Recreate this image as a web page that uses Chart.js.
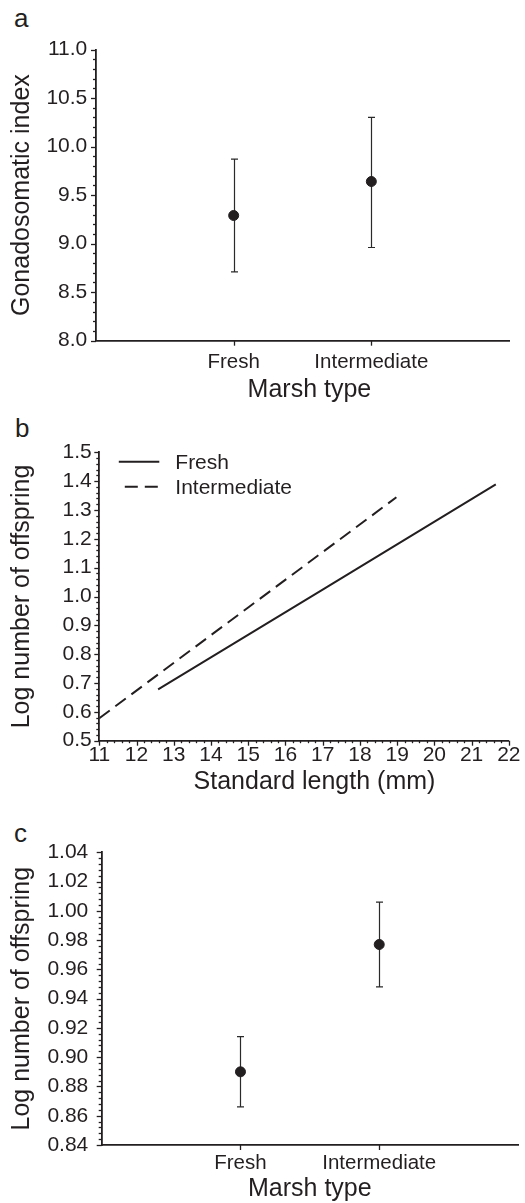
<!DOCTYPE html>
<html>
<head>
<meta charset="utf-8">
<script src="https://cdn.jsdelivr.net/npm/chart.js@4.4.1/dist/chart.umd.min.js"></script>
<style>
html, body { margin: 0; padding: 0; background: #fff; }
body { width: 525px; height: 1203px; position: relative; overflow: hidden; font-family: "Liberation Sans", Arial, sans-serif; color: #231f20; }
canvas { position: absolute; left: 0; }
.lbl { position: absolute; font-size: 26px; line-height: 1; }
</style>
</head>
<body>
<div class="lbl" style="left:14px;top:5px">a</div>
<div class="lbl" style="left:15px;top:415px">b</div>
<div class="lbl" style="left:14px;top:820px">c</div>
<canvas id="chartA" width="525" height="410" style="top:0"></canvas>
<canvas id="chartB" width="525" height="405" style="top:405px"></canvas>
<canvas id="chartC" width="525" height="393" style="top:810px"></canvas>
<script>
// panel a - gonadosomatic index
const marshTypes = ["Fresh", "Intermediate"];
const gsiMean = [9.29, 9.64];
const gsiLow = [8.71, 8.96];
const gsiHigh = [9.87, 10.30];

// panel b - regression lines
const fitLabels = ["Fresh", "Intermediate"];
const freshSL = [12.58, 17, 21.65];
const freshLogN = [0.678, 1.024, 1.389];
const interSL = [11, 15, 18.98];
const interLogN = [0.578, 0.962, 1.344];

// panel c - log number of offspring
const offMean = [0.890, 0.977];
const offLow = [0.866, 0.948];
const offHigh = [0.914, 1.006];

const INK = "#231f20";
const FONT = "'Liberation Sans', Arial, sans-serif";

Chart.defaults.font.family = FONT;
Chart.defaults.color = INK;

// tick marks (major + minor) drawn from the scales
const axisDeco = {
    id: "axisDeco",
    afterDraw(chart, args, opts) {
        const ctx = chart.ctx;
        const area = chart.chartArea;
        ctx.save();
        ctx.strokeStyle = INK;
        ctx.lineWidth = 1.3;
        Object.values(chart.scales).forEach(scale => {
            const o = opts[scale.id];
            if (!o) return;
            const marks = [];
            if (o.values) {
                o.values.forEach(v => marks.push([v, o.major]));
            } else {
                const n = Math.round((scale.max - scale.min) / o.minorStep);
                for (let i = 0; i <= n; i++) {
                    marks.push([scale.min + i * o.minorStep, i % o.every === 0 ? o.major : o.minor]);
                }
            }
            marks.forEach(([v, len]) => {
                const p = Math.round(scale.getPixelForValue(v)) + 0.5;
                ctx.beginPath();
                if (scale.isHorizontal()) {
                    ctx.moveTo(p, area.bottom);
                    ctx.lineTo(p, area.bottom + len);
                } else {
                    ctx.moveTo(area.left, p);
                    ctx.lineTo(area.left - len, p);
                }
                ctx.stroke();
            });
        });
        ctx.restore();
    }
};

const errorBars = {
    id: "errorBars",
    beforeDatasetsDraw(chart, args, opts) {
        if (!opts.lo) return;
        const ctx = chart.ctx;
        const meta = chart.getDatasetMeta(0);
        const yScale = chart.scales.y;
        ctx.save();
        ctx.strokeStyle = "#2a2a2a";
        ctx.lineWidth = 1.2;
        meta.data.forEach((pt, i) => {
            const x = Math.round(pt.x) + 0.5;
            const y1 = yScale.getPixelForValue(opts.lo[i]);
            const y2 = yScale.getPixelForValue(opts.hi[i]);
            ctx.beginPath();
            ctx.moveTo(x, y1); ctx.lineTo(x, y2);
            ctx.moveTo(x - 3.5, y1); ctx.lineTo(x + 3.5, y1);
            ctx.moveTo(x - 3.5, y2); ctx.lineTo(x + 3.5, y2);
            ctx.stroke();
        });
        ctx.restore();
    }
};

const lineLegend = {
    id: "lineLegend",
    afterDraw(chart, args, opts) {
        if (!opts.show) return;
        const ctx = chart.ctx;
        const area = chart.chartArea;
        ctx.save();
        ctx.font = "21px " + FONT;
        ctx.fillStyle = INK;
        ctx.textBaseline = "middle";
        chart.data.datasets.forEach((ds, i) => {
            const y = area.top + 9.5 + i * 25;
            ctx.strokeStyle = INK;
            ctx.lineWidth = 2;
            ctx.setLineDash(ds.borderDash || []);
            ctx.beginPath();
            ctx.moveTo(area.left + (ds.borderDash ? 25.5 : 19.5), y);
            ctx.lineTo(area.left + 60, y);
            ctx.stroke();
            ctx.setLineDash([]);
            ctx.fillText(ds.label, area.left + 76, y + 1);
        });
        ctx.restore();
    }
};

function fixSize(w, h) {
    return scale => {
        if (w !== null) scale.width = w;
        if (h !== null) scale.height = h;
    };
}

function yTitle(text) {
    return { display: true, text: text, font: { size: 25, lineHeight: 1 }, padding: { top: 9.8, bottom: 0 }, color: INK };
}

function axisBorder() {
    return { display: true, color: INK, width: 1.8 };
}

function meanChart(id, opts) {
    return new Chart(document.getElementById(id), {
        type: "scatter",
        data: {
            datasets: [{
                data: opts.mean.map((v, i) => ({ x: i + 1, y: v })),
                pointRadius: 5,
                pointBackgroundColor: INK,
                pointBorderColor: INK,
                showLine: false
            }]
        },
        options: {
            responsive: false,
            animation: false,
            layout: { autoPadding: false, padding: opts.padding },
            plugins: {
                legend: { display: false },
                tooltip: { enabled: false },
                errorBars: { lo: opts.lo, hi: opts.hi },
                axisDeco: {
                    x: { values: marshTypes.map((c, i) => i + 1), major: 5 },
                    y: opts.yDeco
                }
            },
            scales: {
                x: {
                    type: "linear",
                    min: 0,
                    max: marshTypes.length + 1,
                    afterBuildTicks: scale => { scale.ticks = marshTypes.map((c, i) => ({ value: i + 1 })); },
                    afterFit: fixSize(null, opts.xHeight),
                    grid: { display: false, drawTicks: false },
                    border: axisBorder(),
                    ticks: {
                        autoSkip: false,
                        maxRotation: 0,
                        padding: opts.xPad,
                        font: { size: 20.5, lineHeight: 1 },
                        color: INK,
                        callback: v => marshTypes[v - 1] || ""
                    },
                    title: { display: true, text: opts.xTitle, font: { size: 25, lineHeight: 1 }, padding: { top: 0, bottom: opts.xTitlePad }, color: INK }
                },
                y: {
                    min: opts.yMin,
                    max: opts.yMax,
                    afterFit: fixSize(opts.yWidth, null),
                    grid: { display: false, drawTicks: false },
                    border: axisBorder(),
                    ticks: {
                        stepSize: opts.yStep,
                        padding: opts.yPad,
                        font: { size: 21, lineHeight: 1 },
                        color: INK,
                        callback: v => v.toFixed(opts.yDigits)
                    },
                    title: yTitle(opts.yTitle)
                }
            }
        },
        plugins: [axisDeco, errorBars]
    });
}

meanChart("chartA", {
    mean: gsiMean, lo: gsiLow, hi: gsiHigh,
    padding: { top: 49.5, right: 16, bottom: 0, left: 0 },
    xHeight: 69.3, xPad: 11.8, xTitlePad: 7.5, xTitle: "  Marsh type",
    yMin: 8, yMax: 11, yStep: 0.5, yDigits: 1, yWidth: 96, yPad: 8.7,
    yDeco: { minorStep: 0.1, every: 5, major: 5, minor: 3 },
    yTitle: "Gonadosomatic index"
});

meanChart("chartC", {
    mean: offMean, lo: offLow, hi: offHigh,
    padding: { top: 42.3, right: 7, bottom: 0, left: 0 },
    xHeight: 58, xPad: 7.8, xTitlePad: 0.9, xTitle: "Marsh type",
    yMin: 0.84, yMax: 1.04, yStep: 0.02, yDigits: 2, yWidth: 101.7, yPad: 13.4,
    yDeco: { minorStep: 0.004, every: 5, major: 5, minor: 3 },
    yTitle: "Log number of offspring"
});

new Chart(document.getElementById("chartB"), {
    type: "scatter",
    data: {
        datasets: [
            {
                label: fitLabels[0],
                data: freshSL.map((v, i) => ({ x: v, y: freshLogN[i] })),
                showLine: true,
                borderColor: INK,
                borderWidth: 2,
                pointRadius: 0
            },
            {
                label: fitLabels[1],
                data: interSL.map((v, i) => ({ x: v, y: interLogN[i] })),
                showLine: true,
                borderColor: INK,
                borderWidth: 2,
                borderDash: [13, 7],
                pointRadius: 0
            }
        ]
    },
    options: {
        responsive: false,
        animation: false,
        layout: { autoPadding: false, padding: { top: 47.3, right: 16, bottom: 0, left: 0 } },
        plugins: {
            legend: { display: false },
            tooltip: { enabled: false },
            lineLegend: { show: true },
            axisDeco: {
                x: { minorStep: 0.2, every: 5, major: 5, minor: 2.5 },
                y: { minorStep: 0.02, every: 5, major: 5, minor: 3 }
            }
        },
        scales: {
            x: {
                type: "linear",
                min: 11,
                max: 22,
                afterFit: fixSize(null, 69.3),
                grid: { display: false, drawTicks: false },
                border: axisBorder(),
                ticks: { stepSize: 1, padding: 4.5, maxRotation: 0, autoSkip: false, font: { size: 21, lineHeight: 1 }, color: INK },
                title: { display: true, text: "   Standard length (mm)", font: { size: 25, lineHeight: 1 }, padding: { top: 0, bottom: 15.2 }, color: INK }
            },
            y: {
                min: 0.5,
                max: 1.5,
                afterFit: fixSize(99.3, null),
                grid: { display: false, drawTicks: false },
                border: axisBorder(),
                ticks: { stepSize: 0.1, padding: 7.6, font: { size: 21, lineHeight: 1 }, color: INK, callback: v => v.toFixed(1) },
                title: yTitle("Log number of offspring")
            }
        }
    },
    plugins: [axisDeco, lineLegend]
});
</script>
</body>
</html>
